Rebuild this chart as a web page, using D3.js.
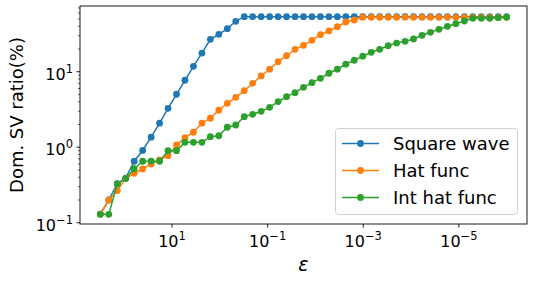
<!DOCTYPE html>
<html><head><meta charset="utf-8">
<script src="https://cdn.jsdelivr.net/npm/d3@7"></script>
<style>body{margin:0;background:#fff}svg{display:block;font-family:"DejaVu Sans",sans-serif}</style>
</head><body><svg id="c" width="533" height="281"></svg>
<script>
const eps = [316.2,210.3,139.9,93.06,61.90,41.17,27.38,18.21,12.12,8.06,5.36,3.566,2.371,1.577,1.049,0.6978,0.4642,0.3087,0.2054,0.1366,0.09085,0.06043,0.04019,0.02674,0.01778,0.01183,0.007868,0.005233,0.003481,0.002315,0.00154,0.001024,6.813e-4,4.532e-4,3.014e-4,2.005e-4,1.334e-4,8.87e-5,5.90e-5,3.925e-5,2.61e-5,1.736e-5,1.155e-5,7.68e-6,5.109e-6,3.398e-6,2.26e-6,1.503e-6,1e-6];
const squareWave = [0.13,0.2,0.33,0.39,0.652,0.906,1.36,2.08,3.28,5.03,7.71,11.8,17.7,26.9,31.3,37.2,46.6,
 53.6,53.6,53.6,53.6,53.6,53.6,53.6,53.6,53.6,53.6,53.6,53.6,53.6,53.6,53.6,53.6,
 53.6,53.6,53.6,53.6,53.6,53.6,53.6,53.6,53.6,53.6,53.6,53.6,53.6,53.6,53.6,53.6];
const hatFunc = [0.13,0.2,0.266,0.385,0.452,0.515,0.60,0.68,0.773,1.07,1.34,1.58,2.08,2.42,3.09,3.82,4.59,5.61,7.03,8.79,10.8,13.6,16.3,19.8,22.4,26.1,31.0,34.7,39.5,45.6,48.5,
 52.6,52.6,52.6,52.6,52.6,52.6,52.6,52.6,52.6,52.6,52.6,52.6,52.6,52.6,52.6,52.6,52.6,52.6];
const intHatFunc = [0.129,0.129,0.326,0.384,0.52,0.652,0.652,0.652,0.90,0.90,1.16,1.16,1.16,1.38,1.42,1.84,1.97,2.54,2.73,2.99,3.38,4.02,4.68,5.28,6.22,7.16,8.19,9.55,10.8,12.6,14.2,16.1,18.1,19.8,22.1,24.0,25.3,27.2,30.4,33.3,36.5,40.0,43.3,47.0,51.0,51.0,51.0,52.0,52.6];
const seriesNames = ["Square wave","Hat func","Int hat func"];
const colors = ["#1f77b4","#ff7f0e","#2ca02c"];
const xTicks = [1e1,1e-1,1e-3,1e-5];
const xTickExp = ["1","\u22121","\u22123","\u22125"];
const yTicks = [1e-1,1e0,1e1];
const yTickExp = ["\u22121","0","1"];
const xLabel = "\u03b5";
const yLabel = "Dom. SV ratio(%)";

const svg = d3.select("#c");
const L=80,R=527,T=6,B=224;
const x = d3.scaleLog().domain([Math.pow(10,2.925),Math.pow(10,-6.425)]).range([L,R]);
const y = d3.scaleLog().domain([Math.pow(10,-1.017),Math.pow(10,1.871)]).range([B,T]);

const allSeries=[squareWave,hatFunc,intHatFunc];
allSeries.forEach((s,si)=>{
  const pts = s.map((v,i)=>[x(eps[i]),y(v)]);
  svg.append("path").attr("d",d3.line()(pts)).attr("fill","none").attr("stroke",colors[si]).attr("stroke-width",1.5);
  svg.append("g").selectAll("circle").data(pts).join("circle")
    .attr("cx",d=>d[0]).attr("cy",d=>d[1]).attr("r",3.4).attr("fill",colors[si]);
});

// spines
svg.append("rect").attr("x",L).attr("y",T).attr("width",R-L).attr("height",B-T)
  .attr("fill","none").attr("stroke","#000").attr("stroke-width",0.9);

// x ticks
xTicks.forEach((t,i)=>{
  const px=x(t);
  svg.append("line").attr("x1",px).attr("x2",px).attr("y1",B).attr("y2",B+3.5).attr("stroke","#000").attr("stroke-width",0.9);
  const tx=svg.append("text").attr("x",px).attr("y",B+22.5).attr("text-anchor","middle").attr("font-size",16).attr("fill","#000");
  tx.append("tspan").text("10");
  tx.append("tspan").attr("dy",-7).attr("font-size",11.5).text(xTickExp[i]);
});
// y ticks
yTicks.forEach((t,i)=>{
  const py=y(t);
  svg.append("line").attr("x1",L-3.5).attr("x2",L).attr("y1",py).attr("y2",py).attr("stroke","#000").attr("stroke-width",0.9);
  const tx=svg.append("text").attr("x",L-7).attr("y",py+8).attr("text-anchor","end").attr("font-size",16).attr("fill","#000");
  tx.append("tspan").text("10");
  tx.append("tspan").attr("dy",-7).attr("font-size",11.5).text(yTickExp[i]);
});
// y minor ticks
const yMinor=[];
[-2,-1,0,1].forEach(e=>{for(let m=2;m<=9;m++){const v=m*Math.pow(10,e); if(v>y.domain()[0]&&v<y.domain()[1]) yMinor.push(v);}});
svg.append("g").selectAll("line").data(yMinor).join("line")
  .attr("x1",L-2).attr("x2",L).attr("y1",d=>y(d)).attr("y2",d=>y(d)).attr("stroke","#000").attr("stroke-width",0.6);

// axis labels
svg.append("text").attr("x",(L+R)/2).attr("y",271).attr("text-anchor","middle").attr("font-size",19).attr("font-style","italic").text(xLabel);
svg.append("text").attr("transform",`translate(23,${(T+B)/2}) rotate(-90)`).attr("text-anchor","middle").attr("font-size",18).text(yLabel);

// legend
const lg=svg.append("g");
lg.append("rect").attr("x",335.5).attr("y",128.5).attr("width",182).attr("height",86).attr("rx",3)
  .attr("fill","#fff").attr("fill-opacity",0.8).attr("stroke","#ccc").attr("stroke-width",0.9);
seriesNames.forEach((n,i)=>{
  const cy=143.5+i*27;
  lg.append("line").attr("x1",342).attr("x2",379).attr("y1",cy).attr("y2",cy).attr("stroke",colors[i]).attr("stroke-width",1.5);
  lg.append("circle").attr("cx",360.5).attr("cy",cy).attr("r",3.4).attr("fill",colors[i]);
  lg.append("text").attr("x",393).attr("y",cy+6.5).attr("font-size",18).attr("fill","#000").text(n);
});
</script></body></html>
